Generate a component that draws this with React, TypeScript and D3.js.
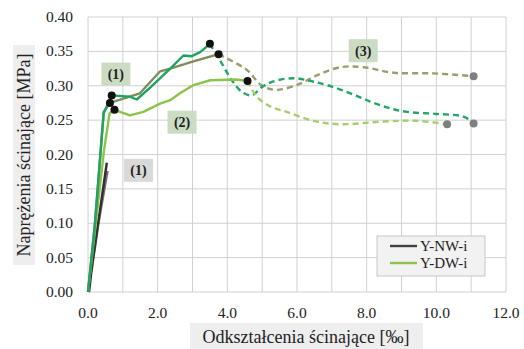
import React from 'react'
import * as d3 from 'd3'

type Pt = [number, number]

const xTicks = [0, 2, 4, 6, 8, 10, 12]
const yTicks = [0, 0.05, 0.1, 0.15, 0.2, 0.25, 0.3, 0.35, 0.4]

// Y-NW-i specimens (only the initial elastic part)
const nwDark: Pt[] = [[0.03, 0.0], [0.12, 0.04], [0.54, 0.188]]
const nwGray: Pt[] = [[0.1, 0.03], [0.3, 0.1], [0.56, 0.176]]

// Y-DW-i specimens, solid part up to peak
const tealSolid: Pt[] = [[0, 0], [0.2, 0.1], [0.45, 0.26], [0.68, 0.286], [1.2, 0.284], [1.4, 0.28], [1.8, 0.298], [2.36, 0.325], [2.74, 0.344], [2.98, 0.343], [3.22, 0.349], [3.5, 0.361]]
const oliveSolid: Pt[] = [[0, 0], [0.2, 0.1], [0.45, 0.262], [0.63, 0.275], [1.49, 0.289], [2.07, 0.321], [2.36, 0.325], [3.0, 0.335], [3.75, 0.346]]
const limeSolid: Pt[] = [[0, 0], [0.46, 0.206], [0.62, 0.26], [0.76, 0.265], [1.2, 0.257], [1.59, 0.262], [2.07, 0.274], [2.36, 0.279], [2.64, 0.289], [3.03, 0.301], [3.51, 0.308], [4.27, 0.309], [4.58, 0.307]]

// post-peak, dashed
const tealDash: Pt[] = [[3.5, 0.361], [3.79, 0.337], [4.13, 0.308], [4.42, 0.291], [4.7, 0.286], [4.99, 0.298], [5.3, 0.306], [5.9, 0.311], [6.38, 0.307], [6.86, 0.301], [7.53, 0.289], [8.1, 0.277], [8.68, 0.267], [9.16, 0.262], [10.02, 0.259], [10.78, 0.255], [11.07, 0.245], [11.15, 0.238]]
const oliveDash: Pt[] = [[3.75, 0.346], [3.98, 0.34], [4.56, 0.323], [5.0, 0.3], [5.42, 0.294], [6.09, 0.303], [6.57, 0.315], [7.24, 0.327], [7.91, 0.327], [8.77, 0.319], [9.92, 0.318], [11.07, 0.314]]
const limeDash: Pt[] = [[4.58, 0.307], [4.85, 0.284], [5.23, 0.27], [5.7, 0.262], [6.47, 0.249], [7.24, 0.244], [8.49, 0.248], [9.44, 0.249], [10.31, 0.244]]

const blackDots: Pt[] = [[0.68, 0.286], [0.63, 0.275], [0.76, 0.265], [3.5, 0.361], [3.75, 0.346], [4.58, 0.307]]
const grayDots: Pt[] = [[11.07, 0.314], [11.07, 0.245], [10.31, 0.244]]

const notes = [
  { text: '(1)', x: 0.8, y: 0.317, fill: '#cbdcc3' },
  { text: '(2)', x: 2.7, y: 0.247, fill: '#cbdcc3' },
  { text: '(1)', x: 1.45, y: 0.177, fill: '#d9d9d9' },
  { text: '(3)', x: 7.9, y: 0.351, fill: '#cbdcc3' },
]

const legendItems = [
  { label: 'Y-NW-i', color: '#404040' },
  { label: 'Y-DW-i', color: '#8cc34b' },
]

const W = 524
const H = 349
const font = "'Liberation Serif', 'Times New Roman', serif"

export default function App() {
  const x = d3.scaleLinear().domain([0, 12]).range([88, 506])
  const y = d3.scaleLinear().domain([0, 0.4]).range([292, 17])
  const solid = d3.line<Pt>().x((d) => x(d[0])).y((d) => y(d[1]))
  const smooth = d3
    .line<Pt>()
    .x((d) => x(d[0]))
    .y((d) => y(d[1]))
    .curve(d3.curveCatmullRom.alpha(0.5))

  const gridX = d3.range(0, 13, 1)
  const series = [
    { d: solid(nwGray), c: '#707070', dash: undefined },
    { d: solid(nwDark), c: '#303030', dash: undefined },
    { d: smooth(oliveDash), c: '#9a9d6c', dash: '6 4' },
    { d: smooth(tealDash), c: '#22a566', dash: '6 4' },
    { d: smooth(limeDash), c: '#a4cf6c', dash: '6 4' },
    { d: solid(limeSolid), c: '#8cc34b', dash: undefined },
    { d: solid(oliveSolid), c: '#808c5c', dash: undefined },
    { d: solid(tealSolid), c: '#1fa361', dash: undefined },
  ]
  const tf = { fontFamily: font }

  return (
    <svg width={W} height={H} style={{ position: 'absolute', left: 0, top: 0, background: '#fff' }}>
      {/* grid */}
      {gridX.map((v) => (
        <line key={'gx' + v} x1={x(v)} x2={x(v)} y1={y(0.4)} y2={y(0)} stroke="#d0d0d0" strokeWidth={1} />
      ))}
      {yTicks.map((v) => (
        <line key={'gy' + v} x1={x(0)} x2={x(12)} y1={y(v)} y2={y(v)} stroke="#d0d0d0" strokeWidth={1} />
      ))}

      {/* tick labels */}
      {yTicks.map((v) => (
        <text key={'ty' + v} x={73} y={y(v) + 5} textAnchor="end" fontSize={15.5} fill="#222" style={tf}>
          {v.toFixed(2)}
        </text>
      ))}
      {xTicks.map((v) => (
        <text key={'tx' + v} x={x(v)} y={318} textAnchor="middle" fontSize={15.5} fill="#222" style={tf}>
          {v.toFixed(1)}
        </text>
      ))}

      {/* axis titles */}
      <rect x={190} y={323} width={233} height={26} fill="#eeeeee" />
      <text x={306} y={343} textAnchor="middle" fontSize={18} fill="#222" style={tf}>
        Odkształcenia ścinające [‰]
      </text>
      <rect x={13} y={45} width={22} height={220} fill="#eeeeee" />
      <text transform={`translate(30,155) rotate(-90)`} textAnchor="middle" fontSize={18} fill="#222" style={tf}>
        Naprężenia ścinające [MPa]
      </text>

      {/* curves */}
      {series.map((s, i) => (
        <path key={'s' + i} d={s.d ?? ''} fill="none" stroke={s.c} strokeWidth={2.4} strokeDasharray={s.dash} strokeLinejoin="round" />
      ))}
      {blackDots.map((p, i) => (
        <circle key={'bd' + i} cx={x(p[0])} cy={y(p[1])} r={4} fill="#111" />
      ))}
      {grayDots.map((p, i) => (
        <circle key={'gd' + i} cx={x(p[0])} cy={y(p[1])} r={4} fill="#7f7f7f" />
      ))}

      {/* annotations */}
      {notes.map((n, i) => (
        <g key={'n' + i}>
          <rect x={x(n.x) - 14.5} y={y(n.y) - 11.5} width={29} height={23} fill={n.fill} />
          <text x={x(n.x)} y={y(n.y) + 5} textAnchor="middle" fontSize={14} fontWeight="bold" fill="#222" style={tf}>
            {n.text}
          </text>
        </g>
      ))}

      {/* legend */}
      <rect x={377} y={236} width={108} height={40} fill="#f2f2f2" stroke="#c8c8c8" />
      {legendItems.map((it, i) => (
        <g key={it.label}>
          <line x1={390} x2={417} y1={246 + i * 17} y2={246 + i * 17} stroke={it.color} strokeWidth={2.4} />
          <text x={420} y={251 + i * 17} fontSize={15} fill="#222" style={tf}>
            {it.label}
          </text>
        </g>
      ))}
    </svg>
  )
}
